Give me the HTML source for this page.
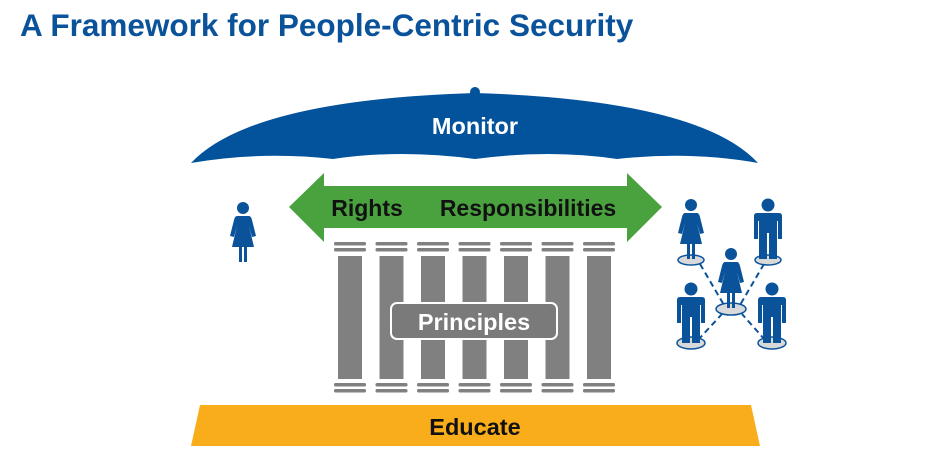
<!DOCTYPE html>
<html><head><style>
body{margin:0;background:#fff;width:938px;height:464px;overflow:hidden;font-family:"Liberation Sans",sans-serif}
</style></head><body>
<svg width="938" height="464" viewBox="0 0 938 464" xmlns="http://www.w3.org/2000/svg" font-family="Liberation Sans, sans-serif">
<defs>
<g id="w" fill="#0a539b">
<circle cx="0" cy="-54" r="6"/>
<path d="M-6,-46 L6,-46 Q8,-46 9,-42 L13,-26 L9,-25 L6,-36 L11,-15 L4,-15 L4,0 L1,0 L1,-15 L-1,-15 L-1,0 L-4,0 L-4,-15 L-11,-15 L-6,-36 L-9,-25 L-13,-26 L-9,-42 Q-8,-46 -6,-46 Z"/>
</g>
<g id="m" fill="#0a539b">
<circle cx="0" cy="-54" r="6.5"/>
<path d="M-11,-46 L11,-46 Q14,-46 14,-43 L14,-20 L10,-20 L10,-38 L9,-38 L9,0 L1,0 L1,-26 L-1,-26 L-1,0 L-9,0 L-9,-38 L-10,-38 L-10,-20 L-14,-20 L-14,-43 Q-14,-46 -11,-46 Z"/>
</g>
</defs>
<text x="20" y="36" font-size="31.5" font-weight="bold" fill="#0a539b">A Framework for People-Centric Security</text>
<!-- umbrella -->
<circle cx="475" cy="92" r="5" fill="#02529c"/>
<path d="M191,163 Q250,100 475,93 Q700,100 758,163 Q690,151 617,159 Q550,149 475,159 Q400,149 333,159 Q260,151 191,163 Z" fill="#02529c"/>
<text x="475" y="134" font-size="23.5" font-weight="bold" fill="#fff" text-anchor="middle">Monitor</text>
<!-- arrow -->
<path d="M289,207 L324,173 L324,186 L627,186 L627,173 L662,207 L627,242 L627,228 L324,228 L324,242 Z" fill="#4aa23f"/>
<text x="367" y="216" font-size="23" font-weight="bold" fill="#111" text-anchor="middle">Rights</text>
<text x="528" y="216" font-size="23" font-weight="bold" fill="#111" text-anchor="middle">Responsibilities</text>
<!-- pillars -->
<g fill="#808080">
<g id="p">
<rect x="334" y="242" width="32" height="3.5" rx="1.5"/>
<rect x="334" y="248" width="32" height="3.5" rx="1.5"/>
<rect x="338" y="256" width="24" height="123"/>
<rect x="334" y="383" width="32" height="3.5" rx="1.5"/>
<rect x="334" y="389" width="32" height="3.5" rx="1.5"/>
</g>
<use href="#p" x="41.5"/><use href="#p" x="83"/><use href="#p" x="124.5"/><use href="#p" x="166"/><use href="#p" x="207.5"/><use href="#p" x="249"/>
</g>
<rect x="391" y="303" width="166" height="36" rx="6" fill="#7a7a7a" stroke="#fff" stroke-width="2"/>
<text x="474" y="330" font-size="23.5" font-weight="bold" fill="#fff" text-anchor="middle">Principles</text>
<!-- educate -->
<path d="M200,405 L751,405 L760,446 L191,446 Z" fill="#f9ad1a"/>
<text x="475" y="435" font-size="23.5" font-weight="bold" fill="#111" text-anchor="middle">Educate</text>
<!-- people -->
<use href="#w" x="243" y="262"/>
<g stroke="#0a539b" stroke-width="2" stroke-dasharray="6,4">
<line x1="700" y1="264" x2="724" y2="305"/><line x1="764" y1="264" x2="740" y2="305"/>
<line x1="698" y1="340" x2="722" y2="314"/><line x1="765" y1="340" x2="742" y2="314"/>
</g>
<g fill="#d9d9d9" stroke="#0a539b" stroke-width="1.5">
<ellipse cx="691" cy="260" rx="13" ry="5"/><ellipse cx="768" cy="260" rx="13" ry="5"/>
<ellipse cx="731" cy="309" rx="15" ry="6"/>
<ellipse cx="691" cy="343" rx="14" ry="6"/><ellipse cx="772" cy="343" rx="14" ry="6"/>
</g>
<use href="#w" x="691" y="259"/>
<use href="#m" x="768" y="259"/>
<use href="#w" x="731" y="308"/>
<use href="#m" x="691" y="343"/>
<use href="#m" x="772" y="343"/>
</svg>
</body></html>
